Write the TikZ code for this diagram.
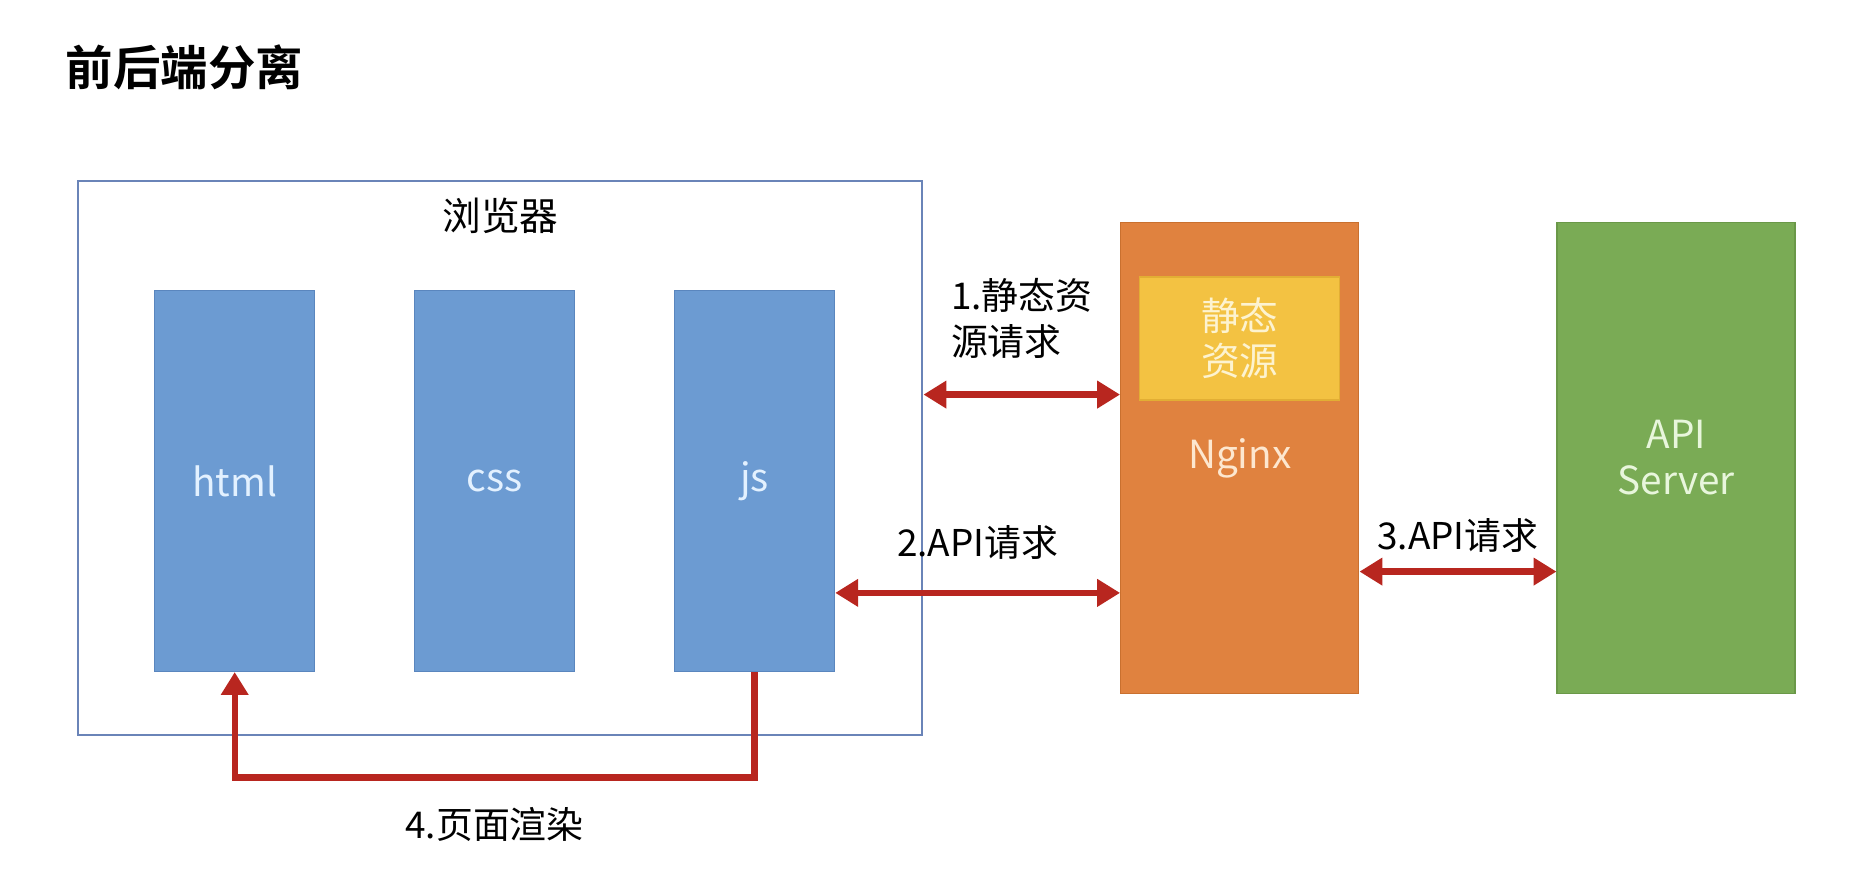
\documentclass[tikz,border=0pt]{standalone}
\usepackage{fontspec}
\setmainfont{Noto Sans CJK SC}[BoldFont={Noto Sans CJK SC Bold}]
\usepackage{tikz}
\usetikzlibrary{arrows.meta,positioning,calc}
\definecolor{framegray}{HTML}{6A84B8}
\definecolor{pageblue}{HTML}{6C9BD2}
\definecolor{pageline}{HTML}{5A86BE}
\definecolor{pagetext}{HTML}{E3F1FF}
\definecolor{nginxorange}{HTML}{E0823F}
\definecolor{nginxline}{HTML}{C9702F}
\definecolor{nginxtext}{HTML}{FDE7CF}
\definecolor{resyellow}{HTML}{F3C242}
\definecolor{resline}{HTML}{E2AE34}
\definecolor{restext}{HTML}{FDF3D0}
\definecolor{apigreen}{HTML}{7AAB55}
\definecolor{apiline}{HTML}{6A9848}
\definecolor{apitext}{HTML}{E8F6DC}
\definecolor{arrowred}{HTML}{B8261F}
\tikzstyle{frame}  = [rectangle, draw=framegray, line width=0.6pt, minimum width=8.44cm, minimum height=5.54cm, inner sep=0pt]
\tikzstyle{page}   = [rectangle, fill=pageblue, draw=pageline, text=pagetext, minimum width=1.6cm, minimum height=3.81cm, font=\fontsize{11}{13}\selectfont]
\tikzstyle{server} = [rectangle, minimum width=2.38cm, minimum height=4.71cm, align=center, font=\fontsize{11}{13}\selectfont]
\tikzstyle{res}    = [rectangle, fill=resyellow, draw=resline, text=restext, minimum width=2.0cm, minimum height=1.23cm, align=center, font=\fontsize{11}{13}\selectfont]
\tikzstyle{lbl}    = [align=left, font=\fontsize{10.5}{13}\selectfont, inner sep=0pt]
\tikzstyle{arrow}  = [line width=1.8pt, draw=arrowred, >={Triangle[length=6.5pt,width=7.5pt]}]

\begin{document}
\begin{tikzpicture}
            \useasboundingbox (0,0) rectangle (18.57,8.70);
            %Title
            \node (title) [anchor=west, inner sep=0pt, font=\fontsize{13.5}{16}\selectfont\bfseries] at (0.65,8.03) {前后端分离};
            %Browser with its three parts
            \node (browser) [frame] at (5.004,4.121) {};
            \node (browser_name) [font=\fontsize{11}{13}\selectfont, below=0.36cm of browser.north, anchor=center] {浏览器};
            \node (html) [page, anchor=north west] at (1.54,5.803) {html};
            \node (css)  [page, right=0.985cm of html] {css};
            \node (js)   [page, right=0.985cm of css]  {js};
            %Servers
            \node (nginx) [server, fill=nginxorange, draw=nginxline, text=nginxtext, right=1.966cm of browser] {Nginx};
            \node (static) [res, below=0.545cm of nginx.north, anchor=north] {静态\\资源};
            \node (api) [server, fill=apigreen, draw=apiline, text=apitext, right=1.97cm of nginx] {API\\Server};
            %Heights of the connectors
            \coordinate (row_1) at (0,4.754);
            \coordinate (row_2) at (0,2.771);
            \coordinate (row_3) at (0,2.984);
            \coordinate (row_4) at (0,0.924);
            %Connect
            \draw [arrow, <->] (browser.east |- row_1) -- node[lbl, above=0.33cm] {1.静态资\\源请求} (nginx.west |- row_1);
            \draw [arrow, <->] (js.east |- row_2) -- node[lbl, above=0.3cm] {2.API请求} (nginx.west |- row_2);
            \draw [arrow, <->] (nginx.east |- row_3) -- node[lbl, above=0.16cm] {3.API请求} (api.west |- row_3);
            \draw [arrow, ->] (js.south) -- (js.south |- row_4) -- node[lbl, below=0.27cm] {4.页面渲染} (html.south |- row_4) -- (html.south);
\end{tikzpicture}
\end{document}
